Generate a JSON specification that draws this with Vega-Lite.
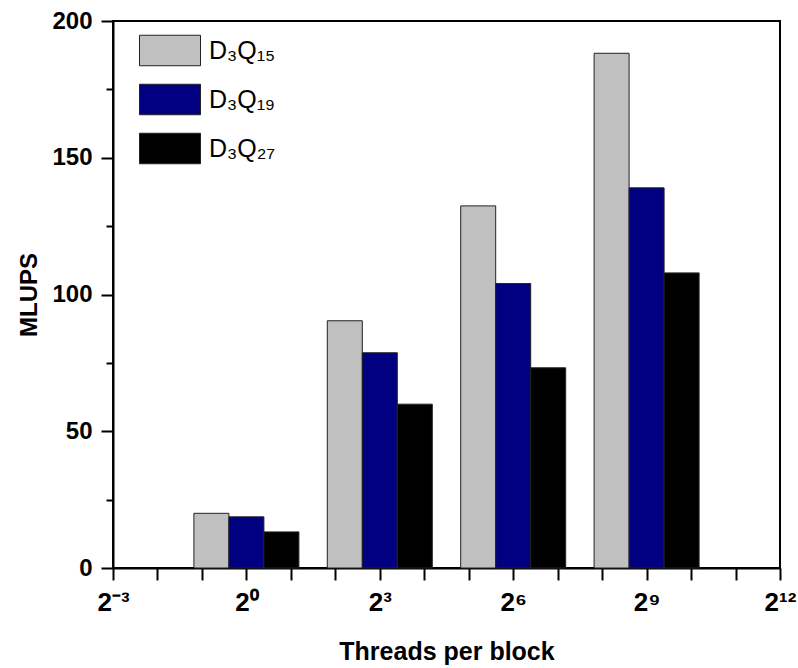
{
  "$schema": "https://vega.github.io/schema/vega-lite/v6.json",
  "width": 667,
  "height": 547,
  "autosize": "none",
  "padding": {"left": 113, "top": 21, "right": 18, "bottom": 100},
  "background": "white",
  "config": {
    "view": {"stroke": "black", "strokeWidth": 2},
    "font": "Liberation Sans"
  },
  "data": {
    "values": [
      {"threads": 1, "model": "D₃Q₁₅", "MLUPS": 20.0},
      {"threads": 1, "model": "D₃Q₁₉", "MLUPS": 18.7},
      {"threads": 1, "model": "D₃Q₂₇", "MLUPS": 13.2},
      {"threads": 8, "model": "D₃Q₁₅", "MLUPS": 90.4},
      {"threads": 8, "model": "D₃Q₁₉", "MLUPS": 78.7},
      {"threads": 8, "model": "D₃Q₂₇", "MLUPS": 59.9},
      {"threads": 64, "model": "D₃Q₁₅", "MLUPS": 132.4},
      {"threads": 64, "model": "D₃Q₁₉", "MLUPS": 104.0},
      {"threads": 64, "model": "D₃Q₂₇", "MLUPS": 73.2},
      {"threads": 512, "model": "D₃Q₁₅", "MLUPS": 188.2},
      {"threads": 512, "model": "D₃Q₁₉", "MLUPS": 139.0},
      {"threads": 512, "model": "D₃Q₂₇", "MLUPS": 107.9}
    ]
  },
  "encoding": {
    "x": {
      "field": "threads",
      "type": "quantitative",
      "scale": {"type": "log", "base": 2, "domain": [0.125, 4096], "nice": false, "padding": 0},
      "axis": {
        "values": [0.125, 0.25, 0.5, 1, 2, 4, 8, 16, 32, 64, 128, 256, 512, 1024, 2048, 4096],
        "labelExpr": "datum.value == 0.125 ? '2⁻³' : datum.value == 1 ? '2⁰' : datum.value == 8 ? '2³' : datum.value == 64 ? '2⁶' : datum.value == 512 ? '2⁹' : datum.value == 4096 ? '2¹²' : ''",
        "grid": false,
        "domainColor": "black",
        "domainWidth": 2,
        "tickColor": "black",
        "tickWidth": 2,
        "tickSize": 12,
        "labelFontSize": 26,
        "labelFontWeight": "bold",
        "labelColor": "black",
        "labelPadding": 9,
        "labelOverlap": false,
        "labelFlush": false,
        "title": "Threads per block",
        "titleFontSize": 25,
        "titleFontWeight": "bold",
        "titleColor": "black",
        "titlePadding": 24
      }
    },
    "y": {
      "field": "MLUPS",
      "type": "quantitative",
      "stack": null,
      "scale": {"domain": [0, 200], "nice": false},
      "axis": {
        "values": [0, 25, 50, 75, 100, 125, 150, 175, 200],
        "labelExpr": "datum.value % 50 == 0 ? datum.label : ''",
        "grid": false,
        "domainColor": "black",
        "domainWidth": 2,
        "tickColor": "black",
        "tickWidth": 2,
        "tickSize": {"condition": {"test": "datum.value % 50 == 0", "value": 12}, "value": 7},
        "labelFontSize": 24,
        "labelFontWeight": "bold",
        "labelColor": "black",
        "labelPadding": 9,
        "labelOverlap": false,
        "labelFlush": false,
        "title": "MLUPS",
        "titleFontSize": 24,
        "titleFontWeight": "bold",
        "titleColor": "black",
        "titlePadding": 10
      }
    },
    "color": {
      "field": "model",
      "type": "nominal",
      "scale": {"domain": ["D₃Q₁₅", "D₃Q₁₉", "D₃Q₂₇"], "range": ["#C0C0C0", "#000080", "#000000"]},
      "legend": {
        "orient": "none",
        "legendX": 26,
        "legendY": -1.5,
        "title": null,
        "padding": 0,
        "symbolType": "M-1,-0.5H1V0.5H-1Z",
        "symbolSize": 3721,
        "symbolStrokeColor": "#222",
        "symbolStrokeWidth": 1,
        "symbolOpacity": 1,
        "labelFont": "Liberation Sans",
        "labelFontSize": 25,
        "labelColor": "black",
        "labelOffset": 8,
        "rowPadding": -18.5
      }
    }
  },
  "layer": [
    {
      "transform": [{"filter": "datum.model == 'D₃Q₁₅'"}],
      "mark": {"type": "bar", "orient": "vertical", "width": 35, "xOffset": -35, "stroke": "#222", "strokeWidth": 1}
    },
    {
      "transform": [{"filter": "datum.model == 'D₃Q₁₉'"}],
      "mark": {"type": "bar", "orient": "vertical", "width": 35, "xOffset": 0, "stroke": "#222", "strokeWidth": 1}
    },
    {
      "transform": [{"filter": "datum.model == 'D₃Q₂₇'"}],
      "mark": {"type": "bar", "orient": "vertical", "width": 35, "xOffset": 35, "stroke": "#222", "strokeWidth": 1}
    }
  ]
}
